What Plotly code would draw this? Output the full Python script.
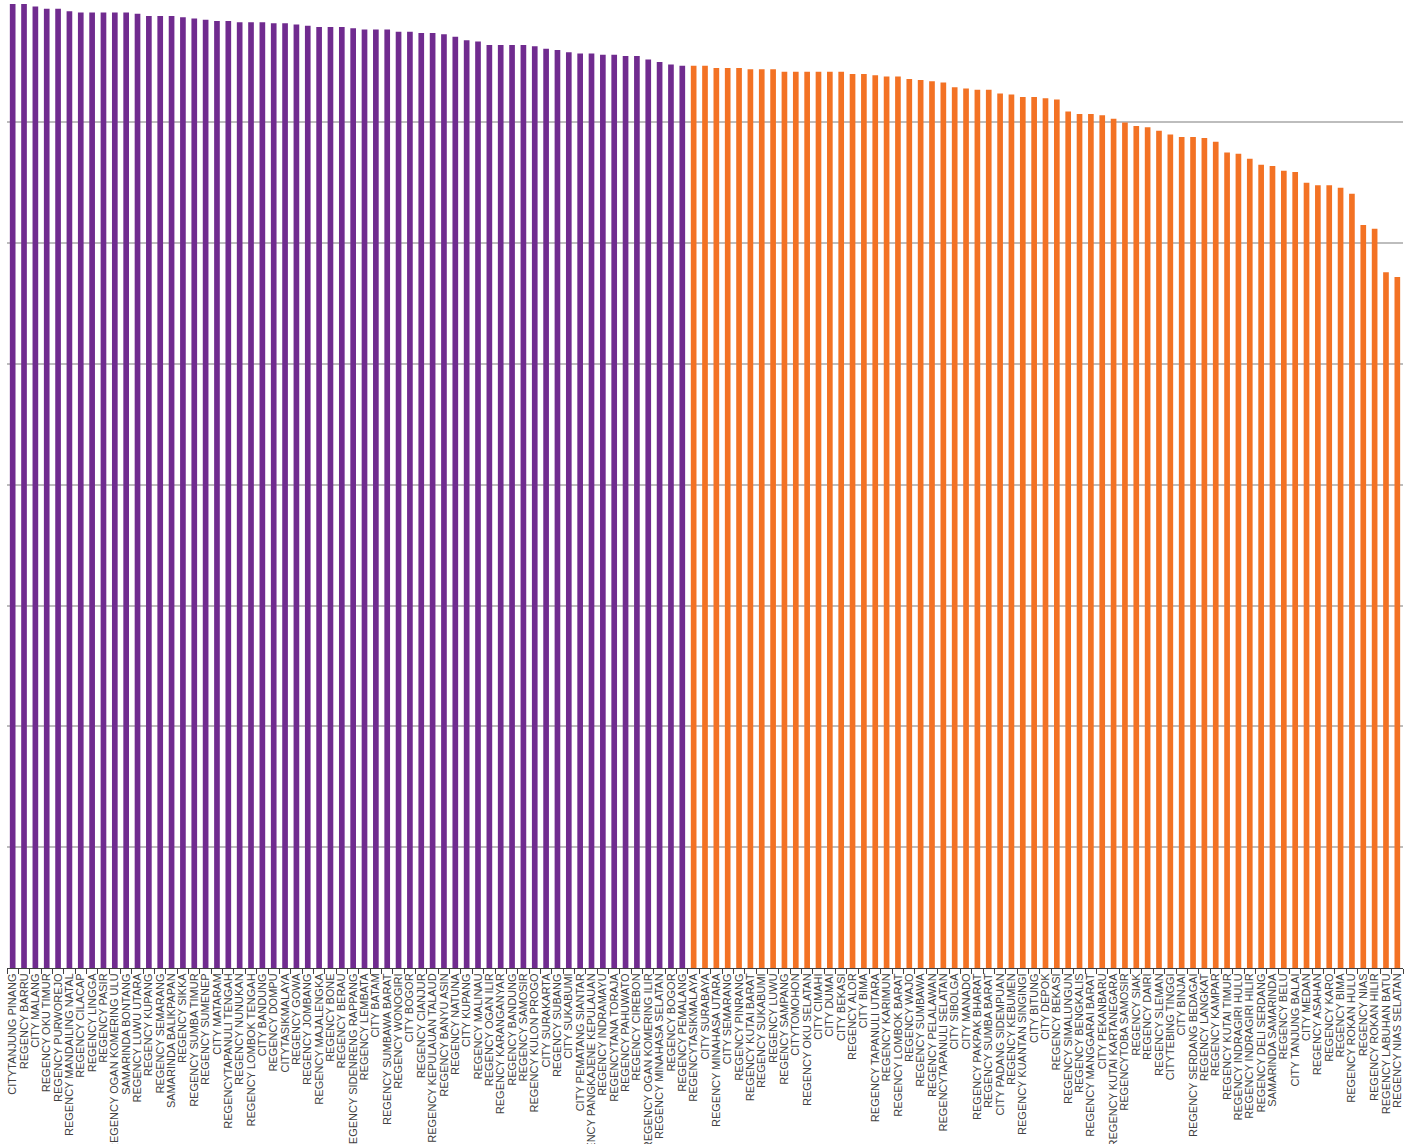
import plotly.graph_objects as go

# Areas, sorted by score (first group purple, second group orange)
group_a_names = [
    "CITYTANJUNG PINANG", "REGENCY BARRU", "CITY MALANG", "REGENCY OKU TIMUR",
    "REGENCY PURWOREJO", "REGENCY MANDAILING NATAL", "REGENCY CILACAP", "REGENCY LINGGA",
    "REGENCY PASIR", "REGENCY OGAN KOMERING ULU", "SAMARINDA BONTANG", "REGENCY LUWU UTARA",
    "REGENCY KUPANG", "REGENCY SEMARANG", "SAMARINDA BALIKPAPAN", "REGENCY SIKKA",
    "REGENCY SUMBA TIMUR", "REGENCY SUMENEP", "CITY MATARAM", "REGENCYTAPANULI TENGAH",
    "REGENCY NUNUKAN", "REGENCY LOMBOK TENGAH", "CITY BANDUNG", "REGENCY DOMPU",
    "CITYTASIKMALAYA", "REGENCY GOWA", "REGENCY JOMBANG", "REGENCY MAJALENGKA",
    "REGENCY BONE", "REGENCY BERAU", "REGENCY SIDENRENG RAPPANG", "REGENCY LEMBATA",
    "CITY BATAM", "REGENCY SUMBAWA BARAT", "REGENCY WONOGIRI", "CITY BOGOR",
    "REGENCY CIANJUR", "REGENCY KEPULAUAN TALAUD", "REGENCY BANYU ASIN", "REGENCY NATUNA",
    "CITY KUPANG", "REGENCY MALINAU", "REGENCY OGAN ILIR", "REGENCY KARANGANYAR",
    "REGENCY BANDUNG", "REGENCY SAMOSIR", "REGENCY KULON PROGO", "CITY SURAKARTA",
    "REGENCY SUBANG", "CITY SUKABUMI", "CITY PEMATANG SIANTAR", "REGENCY PANGKAJENE KEPULAUAN",
    "REGENCY INDRAMAYU", "REGENCYTANA TORAJA", "REGENCY PAHUWATO", "REGENCY CIREBON",
    "REGENCY OGAN KOMERING ILIR", "REGENCY MINAHASA SELATAN", "REGENCY BOGOR", "REGENCY PEMALANG",
]
group_a_values = [
    79.8, 79.8, 79.6, 79.4, 79.4, 79.2, 79.1, 79.1, 79.1, 79.1,
    79.1, 79.0, 78.8, 78.8, 78.8, 78.7, 78.6, 78.5, 78.4, 78.4,
    78.3, 78.3, 78.3, 78.2, 78.2, 78.1, 78.0, 77.9, 77.9, 77.9,
    77.8, 77.7, 77.7, 77.7, 77.5, 77.5, 77.4, 77.4, 77.3, 77.1,
    76.8, 76.7, 76.4, 76.4, 76.4, 76.4, 76.3, 76.1, 76.0, 75.8,
    75.7, 75.7, 75.6, 75.6, 75.5, 75.5, 75.2, 75.0, 74.8, 74.7,
]

group_b_names = [
    "REGENCYTASIKMALAYA", "CITY SURABAYA", "REGENCY MINAHASA UTARA", "CITY SEMARANG",
    "REGENCY PINRANG", "REGENCY KUTAI BARAT", "REGENCY SUKABUMI", "REGENCY LUWU",
    "REGENCY SAMPANG", "CITYTOMOHON", "REGENCY OKU SELATAN", "CITY CIMAHI",
    "CITY DUMAI", "CITY BEKASI", "REGENCY ALOR", "CITY BIMA",
    "REGENCY TAPANULI UTARA", "REGENCY KARIMUN", "REGENCY LOMBOK BARAT", "REGENCY WAJO",
    "REGENCY SUMBAWA", "REGENCY PELALAWAN", "REGENCYTAPANULI SELATAN", "CITY SIBOLGA",
    "CITY MANADO", "REGENCY PAKPAK BHARAT", "REGENCY SUMBA BARAT", "CITY PADANG SIDEMPUAN",
    "REGENCY KEBUMEN", "REGENCY KUANTAN SINGINGI", "CITY BITUNG", "CITY DEPOK",
    "REGENCY BEKASI", "REGENCY SIMALUNGUN", "REGENCY BENGKALIS", "REGENCY MANGGARAI BARAT",
    "CITY PEKANBARU", "REGENCY KUTAI KARTANEGARA", "REGENCYTOBA SAMOSIR", "REGENCY SIAK",
    "REGENCY DAIRI", "REGENCY SLEMAN", "CITYTEBING TINGGI", "CITY BINJAI",
    "REGENCY SERDANG BEDAGAI", "REGENCY LANGKAT", "REGENCY KAMPAR", "REGENCY KUTAI TIMUR",
    "REGENCY INDRAGIRI HULU", "REGENCY INDRAGIRI HILIR", "REGENCY DELI SERDANG", "SAMARINDA SAMARINDA",
    "REGENCY BELU", "CITY TANJUNG BALAI", "CITY MEDAN", "REGENCY ASAHAN",
    "REGENCY KARO", "REGENCY BIMA", "REGENCY ROKAN HULU", "REGENCY NIAS",
    "REGENCY ROKAN HILIR", "REGENCY LABUHAN BATU", "REGENCY NIAS SELATAN",
]
group_b_values = [
    74.7, 74.7, 74.5, 74.5, 74.5, 74.4, 74.4, 74.4, 74.2, 74.2,
    74.2, 74.2, 74.2, 74.2, 74.0, 74.0, 73.9, 73.8, 73.8, 73.6,
    73.5, 73.4, 73.3, 72.9, 72.8, 72.7, 72.7, 72.4, 72.3, 72.1,
    72.1, 72.0, 71.9, 70.9, 70.7, 70.7, 70.6, 70.3, 70.0, 69.7,
    69.6, 69.3, 69.0, 68.8, 68.8, 68.7, 68.4, 67.5, 67.4, 67.0,
    66.5, 66.4, 66.0, 65.9, 65.0, 64.8, 64.8, 64.6, 64.1, 61.5,
    61.2, 57.6, 57.2,
]

PURPLE = "#702b8f"
ORANGE = "#f37224"

fig = go.Figure()
fig.add_trace(go.Bar(x=group_a_names, y=group_a_values, marker_color=PURPLE,
                     marker_line_width=0, showlegend=False))
fig.add_trace(go.Bar(x=group_b_names, y=group_b_values, marker_color=ORANGE,
                     marker_line_width=0, showlegend=False))

fig.update_layout(
    width=1415, height=1144,
    margin=dict(l=7, r=12, t=1, b=176),
    paper_bgcolor="white", plot_bgcolor="white",
    bargap=0.5,
    font=dict(family="Liberation Sans, Arial, sans-serif", color="#404040"),
)
fig.update_xaxes(
    type="category",
    categoryorder="array", categoryarray=group_a_names + group_b_names,
    tickmode="linear", tick0=0, dtick=1,
    tickangle=-90, tickfont=dict(size=11, color="#404040"),
    ticks="outside", tickson="boundaries", ticklen=5, tickcolor="#404040",
    showline=True, linecolor="#404040", linewidth=1,
    showgrid=False, automargin=False,
)
fig.update_yaxes(
    range=[0, 80.05], dtick=10, showticklabels=False,
    showgrid=True, gridcolor="#bdbdbd", gridwidth=2,
    zeroline=False, showline=False, automargin=False,
)

fig.write_html("out.html")
